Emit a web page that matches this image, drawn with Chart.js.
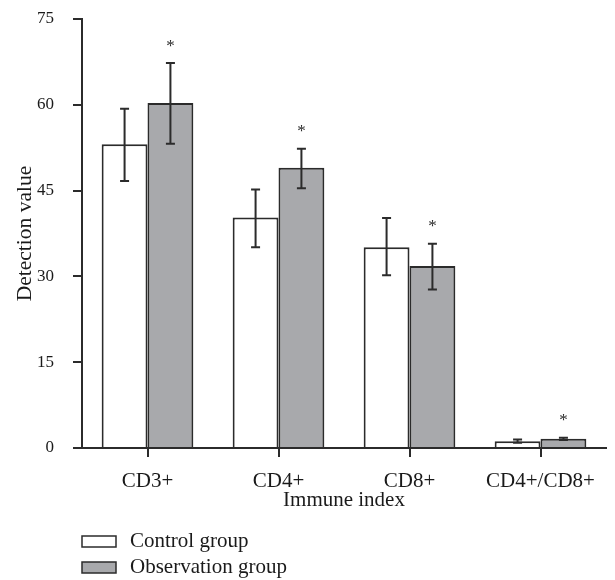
<!DOCTYPE html>
<html>
<head>
<meta charset="utf-8">
<script src="https://cdn.jsdelivr.net/npm/chart.js@4.4.1/dist/chart.umd.min.js"></script>
<style>
  html, body { margin: 0; padding: 0; background: #fff; }
  #wrap { width: 615px; height: 580px; }
</style>
</head>
<body>
<div id="wrap"><canvas id="c" width="615" height="580"></canvas></div>
<script>
// values
const categories = ['CD3+', 'CD4+', 'CD8+', 'CD4+/CD8+']
const controlMean = [53.1, 40.3, 35.1, 1.2]
const controlLow = [46.7, 35.1, 30.2, 0.9]
const controlHigh = [59.3, 45.2, 40.2, 1.5]
const obsMean = [60.3, 49.0, 31.8, 1.6]
const obsLow = [53.2, 45.4, 27.7, 1.4]
const obsHigh = [67.3, 52.3, 35.7, 1.8]
const yTicks = [0, 15, 30, 45, 60, 75]

const FONT = "'Liberation Serif', 'DejaVu Serif', serif"
const INK = '#2b2b2b'
const TXT = '#1a1a1a'

const errorBars = {
  id: 'errorBars',
  afterDatasetsDraw(chart) {
    const ctx = chart.ctx
    const y = chart.scales.y
    chart.data.datasets.forEach((ds, i) => {
      const meta = chart.getDatasetMeta(i)
      meta.data.forEach((bar, j) => {
        const top = y.getPixelForValue(ds.errHigh[j])
        const bot = y.getPixelForValue(ds.errLow[j])
        ctx.save()
        ctx.strokeStyle = INK
        ctx.lineWidth = 2
        ctx.beginPath()
        ctx.moveTo(bar.x, top); ctx.lineTo(bar.x, bot)
        ctx.moveTo(bar.x - 4.5, top); ctx.lineTo(bar.x + 4.5, top)
        ctx.moveTo(bar.x - 4.5, bot); ctx.lineTo(bar.x + 4.5, bot)
        ctx.stroke()
        if (ds.star) {
          ctx.fillStyle = INK
          ctx.font = '17px ' + FONT
          ctx.textAlign = 'center'
          ctx.textBaseline = 'middle'
          ctx.fillText('*', bar.x, top - 17)
        }
        ctx.restore()
      })
    })
  }
}

// x tick marks at the category centres
const xTickMarks = {
  id: 'xTickMarks',
  afterDraw(chart) {
    const ctx = chart.ctx
    const x = chart.scales.x
    ctx.save()
    ctx.strokeStyle = INK
    ctx.lineWidth = 2
    ctx.beginPath()
    x.ticks.forEach((t, i) => {
      const px = Math.round(x.getPixelForTick(i))
      ctx.moveTo(px, x.top)
      ctx.lineTo(px, x.top + 9)
    })
    ctx.stroke()
    ctx.restore()
  }
}

// vertical legend under the axis title
const stackedLegend = {
  id: 'stackedLegend',
  afterDraw(chart) {
    const ctx = chart.ctx
    const x0 = chart.chartArea.left
    const rows = [541.5, 567.5]
    chart.data.datasets.forEach((ds, i) => {
      const cy = rows[i]
      ctx.save()
      ctx.fillStyle = ds.backgroundColor
      ctx.strokeStyle = INK
      ctx.lineWidth = 1.5
      ctx.fillRect(x0, cy - 5.5, 34, 11)
      ctx.strokeRect(x0, cy - 5.5, 34, 11)
      ctx.fillStyle = TXT
      ctx.font = '21px ' + FONT
      ctx.textBaseline = 'middle'
      ctx.fillText(ds.label, x0 + 48, cy)
      ctx.restore()
    })
  }
}

new Chart(document.getElementById('c').getContext('2d'), {
  type: 'bar',
  data: {
    labels: categories,
    datasets: [
      {
        label: 'Control group',
        data: controlMean,
        errLow: controlLow,
        errHigh: controlHigh,
        star: false,
        backgroundColor: '#ffffff',
        borderColor: INK,
        borderWidth: 2,
        categoryPercentage: 0.7,
        barPercentage: 1.0
      },
      {
        label: 'Observation group',
        data: obsMean,
        errLow: obsLow,
        errHigh: obsHigh,
        star: true,
        backgroundColor: '#a8a9ac',
        borderColor: INK,
        borderWidth: 2,
        categoryPercentage: 0.7,
        barPercentage: 1.0
      }
    ]
  },
  options: {
    responsive: false,
    animation: false,
    layout: { padding: { top: 19, right: 9, bottom: 62, left: 0 } },
    plugins: {
      legend: { display: false },
      tooltip: { enabled: false }
    },
    scales: {
      x: {
        grid: { display: false },
        border: { display: true, color: INK, width: 2 },
        ticks: { color: TXT, font: { family: FONT, size: 21 }, padding: 13, maxRotation: 0 },
        title: { display: true, text: 'Immune index', color: TXT, font: { family: FONT, size: 21 }, padding: { top: 0, bottom: 5 } },
        afterFit(scale) { scale.height = 70 }
      },
      y: {
        min: 0,
        max: 75,
        afterBuildTicks(scale) { scale.ticks = yTicks.map(v => ({ value: v })) },
        grid: { display: true, drawOnChartArea: false, tickLength: 9, color: INK, lineWidth: 2 },
        border: { display: true, color: INK, width: 2 },
        ticks: { color: TXT, font: { family: FONT, size: 17 }, padding: 19 },
        title: { display: true, text: 'Detection value', color: TXT, font: { family: FONT, size: 21.5 }, padding: { top: 12, bottom: 0 } },
        afterFit(scale) {
          scale.width = 82
          scale.paddingTop = 0
          scale.paddingBottom = 0
        }
      }
    }
  },
  plugins: [errorBars, xTickMarks, stackedLegend]
})
</script>
</body>
</html>
